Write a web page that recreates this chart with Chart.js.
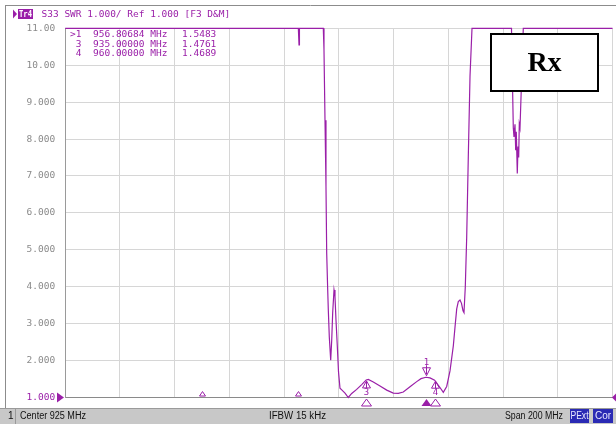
<!DOCTYPE html>
<html><head><meta charset="utf-8">
<script src="https://cdn.jsdelivr.net/npm/chart.js@4/dist/chart.umd.min.js"></script>
<style>html,body{margin:0;padding:0;background:#fff;overflow:hidden}#wrap{position:relative;width:616px;height:424px}</style>
</head><body><div id="wrap"><canvas id="c" width="616" height="424"></canvas></div>
<script>
// ---- data ----
const freqMHz = [825, 910.2, 910.44, 910.6, 919.32, 919.57, 919.94, 920.30, 920.56, 920.93, 921.15, 921.51, 922.02, 922.39, 922.75, 923.23, 923.59, 923.96, 924.43, 924.87, 925.42, 926.15, 927.25, 928.45, 929.70, 931.52, 933.35, 935.0, 935.76, 937.59, 940.04, 942.49, 944.90, 946.73, 948.55, 951.00, 953.45, 955.02, 956.81, 958.31, 960.0, 961.96, 963.17, 964.41, 965.62, 966.83, 967.44, 968.07, 968.65, 969.27, 969.82, 970.37, 970.73, 971.21, 971.72, 972.30, 972.93, 973.66, 988.09, 988.75, 989.00, 989.37, 989.62, 989.84, 990.21, 990.47, 990.72, 990.94, 991.20, 992.40, 1025];
const swr = [11, 11, 10.55, 11, 11, 10.41, 8.51, 6.71, 4.91, 3.91, 3.37, 2.64, 2.01, 2.55, 3.3, 3.91, 3.73, 3.09, 2.4, 1.7, 1.25, 1.2, 1.12, 1.0, 1.11, 1.22, 1.35, 1.476, 1.49, 1.42, 1.31, 1.20, 1.12, 1.11, 1.15, 1.29, 1.43, 1.51, 1.548, 1.53, 1.469, 1.27, 1.14, 1.3, 1.72, 2.4, 2.9, 3.4, 3.6, 3.64, 3.55, 3.35, 3.3, 4.0, 5.35, 7.5, 9.7, 11, 11, 8.3, 8.06, 8.4, 7.7, 8.2, 7.07, 7.8, 7.5, 8.4, 8.3, 11, 11];
const yTickLabels = ["1.000","2.000","3.000","4.000","5.000","6.000","7.000","8.000","9.000","10.00","11.00"];
const markerIds = ["1", "3", "4"];
const markerFreqs = [956.80684, 935.0, 960.0];
const markerSWR = [1.5483, 1.4761, 1.4689];
const otherMarkerFreqs = [875, 910];
const otherMarkerSWR = [1.08, 1.08];
const centerMHz = 925, spanMHz = 200;
const headerText = "S33 SWR 1.000/ Ref 1.000 [F3 D&M]";
const traceName = "Tr4";
const ifbwText = "IFBW 15 kHz";
const boxLabel = "Rx";

const PURPLE = '#9a1fa8';
const MONO = '"DejaVu Sans Mono", monospace';

function tri(ctx, x, y, w, h, up, fill) {
  ctx.beginPath();
  if (up) { ctx.moveTo(x, y); ctx.lineTo(x - w/2, y + h); ctx.lineTo(x + w/2, y + h); }
  else { ctx.moveTo(x, y); ctx.lineTo(x - w/2, y - h); ctx.lineTo(x + w/2, y - h); }
  ctx.closePath();
  if (fill) ctx.fill(); else ctx.stroke();
}

const overlay = {
  id: 'overlay',
  afterDraw(chart) {
    const ctx = chart.ctx, xs = chart.scales.x, ys = chart.scales.y, ca = chart.chartArea;
    ctx.save();
    // frame
    ctx.strokeStyle = '#8c8c8c'; ctx.lineWidth = 1;
    ctx.beginPath(); ctx.moveTo(5, 5.5); ctx.lineTo(616, 5.5); ctx.moveTo(5.5, 5); ctx.lineTo(5.5, 408); ctx.stroke();
    // header
    ctx.fillStyle = PURPLE;
    ctx.beginPath(); ctx.moveTo(13, 9.5); ctx.lineTo(17, 14); ctx.lineTo(13, 18.5); ctx.closePath(); ctx.fill();
    ctx.fillRect(18, 9, 15, 10);
    ctx.textBaseline = 'middle'; ctx.textAlign = 'left';
    ctx.fillStyle = '#fff'; ctx.font = 'bold 9px ' + MONO;
    ctx.fillText(traceName, 19, 14.5, 13);
    ctx.fillStyle = PURPLE; ctx.font = '9.5px ' + MONO;
    ctx.fillText(headerText, 41.5, 14.5);
    // marker table
    for (let i = 0; i < markerIds.length; i++) {
      const yy = 35 + i * 9.5;
      const id = (i === 0 ? '>' : ' ') + markerIds[i];
      ctx.fillText(id, 70, yy);
      ctx.fillText(markerFreqs[i].toFixed(5) + ' MHz', 93, yy);
      ctx.fillText(markerSWR[i].toFixed(4), 182, yy);
    }
    // markers on trace
    ctx.strokeStyle = PURPLE; ctx.fillStyle = PURPLE; ctx.lineWidth = 1;
    ctx.font = '9px ' + MONO; ctx.textAlign = 'center';
    for (let i = 0; i < markerIds.length; i++) {
      const px = Math.round(xs.getPixelForValue(markerFreqs[i])) + 0.5;
      const py = ys.getPixelForValue(markerSWR[i]);
      if (i === 0) {
        tri(ctx, px, py - 1.5, 8, 8, false, false);
        ctx.beginPath(); ctx.moveTo(px, py - 12); ctx.lineTo(px, py - 3); ctx.stroke();
        ctx.fillText(markerIds[i], px, py - 15);
      } else {
        tri(ctx, px, py + 1, 8, 7, true, false);
        ctx.beginPath(); ctx.moveTo(px, py + 1); ctx.lineTo(px, py + 8); ctx.stroke();
        ctx.fillText(markerIds[i], px, py + 12.5);
      }
      // stimulus markers below axis
      tri(ctx, px, ca.bottom + 1.5, 10, 7, true, i === 0);
    }
    for (let i = 0; i < otherMarkerFreqs.length; i++) {
      const px = Math.round(xs.getPixelForValue(otherMarkerFreqs[i])) + 0.5;
      const py = ys.getPixelForValue(otherMarkerSWR[i]);
      tri(ctx, px, py - 3, 6, 4.5, true, false);
    }
    // reference arrows
    const ry = ys.getPixelForValue(1);
    ctx.beginPath(); ctx.moveTo(57, ry - 5); ctx.lineTo(64, ry); ctx.lineTo(57, ry + 5); ctx.closePath(); ctx.fill();
    ctx.beginPath(); ctx.moveTo(616, ry - 4); ctx.lineTo(612, ry); ctx.lineTo(616, ry + 4); ctx.closePath(); ctx.fill();
    // Rx box
    ctx.fillStyle = '#fff'; ctx.fillRect(491, 34, 107, 57);
    ctx.strokeStyle = '#000'; ctx.lineWidth = 2; ctx.strokeRect(491, 34, 107, 57);
    ctx.fillStyle = '#000'; ctx.font = 'bold 28px "Liberation Serif", serif';
    ctx.textAlign = 'center'; ctx.fillText(boxLabel, 544.5, 64);
    // footer
    ctx.fillStyle = '#c8c8c8'; ctx.fillRect(0, 408, 616, 16);
    ctx.strokeStyle = '#9a9a9a'; ctx.lineWidth = 1;
    ctx.beginPath(); ctx.moveTo(0, 408.5); ctx.lineTo(616, 408.5); ctx.moveTo(15.5, 409); ctx.lineTo(15.5, 424); ctx.stroke();
    ctx.fillStyle = '#111'; ctx.font = '10px "Liberation Sans", sans-serif'; ctx.textAlign = 'left';
    ctx.fillText('1', 8, 416.5);
    ctx.fillText('Center ' + centerMHz + ' MHz', 20, 416.5, 66);
    ctx.fillText(ifbwText, 269, 416.5, 57);
    ctx.fillText('Span ' + spanMHz + ' MHz', 505, 416.5, 58);
    ctx.fillStyle = '#2a2ab4'; ctx.fillRect(570, 409, 19, 14); ctx.fillRect(593, 409, 20, 14);
    ctx.fillStyle = '#e8e8ff'; ctx.textAlign = 'center';
    ctx.fillText('PExt', 579.5, 416.5, 18); ctx.fillText('Cor', 603, 416.5, 18);
    ctx.restore();
  }
};

new Chart(document.getElementById('c'), {
  type: 'line',
  data: { datasets: [{
    data: freqMHz.map((f, i) => ({ x: f, y: swr[i] })),
    borderColor: PURPLE, borderWidth: 1.2, pointRadius: 0, tension: 0, fill: false, clip: 3
  }]},
  options: {
    responsive: false, animation: false, devicePixelRatio: 1,
    layout: { padding: { left: 0, right: 3.5, top: 28.3, bottom: 26.5 } },
    plugins: { legend: { display: false }, tooltip: { enabled: false } },
    scales: {
      x: { type: 'linear', min: centerMHz - spanMHz/2, max: centerMHz + spanMHz/2,
        ticks: { display: false, stepSize: 20 },
        grid: { color: '#d6d6d6', drawTicks: false },
        border: { color: '#8a8a8a', width: 1 },
        afterFit: s => { s.height = 0; } },
      y: { type: 'linear', min: 1, max: 11,
        ticks: { stepSize: 1, padding: 10,
          callback: (v, i) => yTickLabels[i],
          color: c => (c.tick && c.tick.value === 1) ? PURPLE : '#8a8a8a',
          font: { family: '"DejaVu Sans Mono", monospace', size: 9.5 } },
        grid: { color: '#d6d6d6', drawTicks: false },
        border: { color: '#9a9a9a', width: 1 },
        afterFit: s => { s.width = 65.2; } }
    }
  },
  plugins: [overlay]
});
</script></body></html>
